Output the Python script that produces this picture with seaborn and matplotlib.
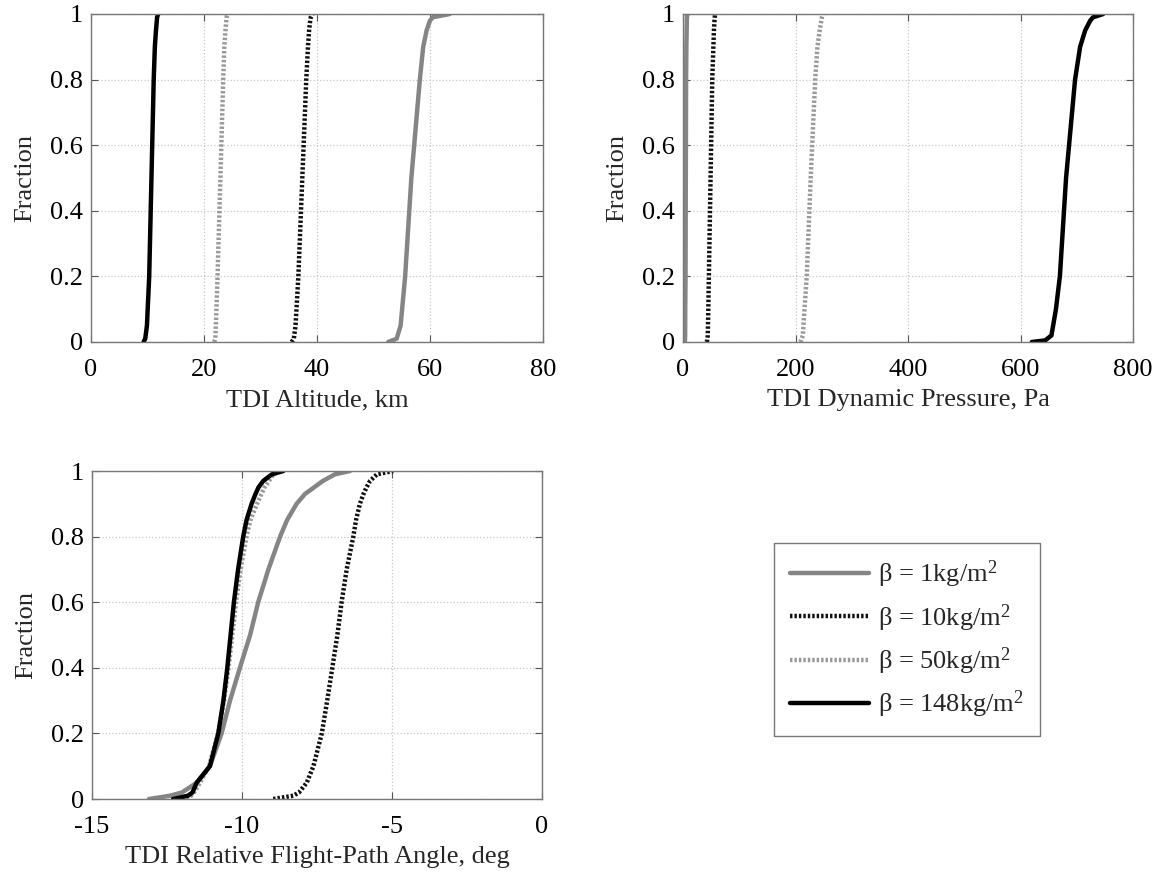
import numpy as np
import pandas as pd
import matplotlib
matplotlib.use("Agg")
import matplotlib.pyplot as plt
from matplotlib.lines import Line2D
import seaborn as sns

# Cumulative fraction levels at which each quantile was taken
frac_alt = [0.0, 0.01, 0.05, 0.2, 0.5, 0.8, 0.9, 0.95, 0.98, 0.99, 1.0]
frac_q = [0.0, 0.005, 0.02, 0.1, 0.2, 0.5, 0.8, 0.9, 0.95, 0.98, 0.99, 1.0]
frac_fpa = [0.0, 0.01, 0.02, 0.05, 0.1, 0.2, 0.3, 0.4, 0.5, 0.6, 0.7, 0.8, 0.85,
            0.9, 0.93, 0.95, 0.97, 0.99, 1.0]

series_labels = [r"$\mathrm{\beta}$ = 1kg/m$^2$", r"$\mathrm{\beta}$ = 10kg/m$^2$",
                 r"$\mathrm{\beta}$ = 50kg/m$^2$", r"$\mathrm{\beta}$ = 148kg/m$^2$"]

# TDI altitude quantiles, km
alt_b1 = [52.6, 54.1, 54.8, 55.6, 56.7, 58.2, 58.8, 59.4, 60.0, 60.5, 63.5]
alt_b10 = [35.5, 35.9, 36.2, 36.7, 37.4, 38.1, 38.4, 38.6, 38.8, 38.9, 39.2]
alt_b50 = [21.8, 22.0, 22.1, 22.4, 22.9, 23.4, 23.6, 23.8, 23.95, 24.0, 24.2]
alt_b148 = [9.3, 9.6, 9.9, 10.3, 10.7, 11.1, 11.3, 11.5, 11.65, 11.7, 11.9]

# TDI dynamic pressure quantiles, Pa
q_b1 = [3, 3.5, 3.8, 4, 4.5, 5, 5.5, 6, 6.5, 6.8, 7, 8]
q_b10 = [42, 43, 44, 45, 46, 49, 52, 54, 55, 56, 56.5, 57]
q_b50 = [208, 210, 213, 216, 220, 227, 235, 239, 243, 246, 247, 249]
q_b148 = [620, 644, 655, 663, 670, 681, 697, 706, 715, 724, 729, 747]

# TDI relative flight-path angle quantiles, deg
fpa_b1 = [-13.1, -12.4, -12.0, -11.5, -11.07, -10.68, -10.4, -10.07, -9.73, -9.46,
          -9.12, -8.73, -8.5, -8.18, -7.9, -7.6, -7.3, -6.9, -6.4]
fpa_b10 = [-8.96, -8.29, -8.1, -7.84, -7.62, -7.34, -7.16, -6.99, -6.82, -6.68,
           -6.51, -6.29, -6.2, -6.07, -5.95, -5.85, -5.73, -5.5, -4.96]
fpa_b50 = [-12.0, -11.7, -11.6, -11.4, -11.1, -10.8, -10.6, -10.45, -10.32, -10.2,
           -10.05, -9.85, -9.72, -9.5, -9.35, -9.25, -9.1, -8.95, -8.7]
fpa_b148 = [-12.3, -11.8, -11.65, -11.51, -11.07, -10.79, -10.62, -10.49, -10.38,
            -10.27, -10.13, -9.96, -9.85, -9.68, -9.55, -9.45, -9.29, -9.0, -8.62]

sns.set_theme(style="white")
plt.rcParams["font.family"] = ["Liberation Serif", "DejaVu Serif"]
plt.rcParams["mathtext.fontset"] = "custom"
plt.rcParams["mathtext.rm"] = "Liberation Serif"
plt.rcParams["mathtext.it"] = "Liberation Serif:italic"
plt.rcParams["axes.unicode_minus"] = False

FS = 19

styles = [
    dict(color="#858585", linestyle="-", linewidth=3.2),
    dict(color="#111111", linestyle=(0, (0.55, 0.45)), linewidth=3.2),
    dict(color="#9a9a9a", linestyle=(0, (0.55, 0.45)), linewidth=3.2),
    dict(color="#000000", linestyle="-", linewidth=3.2),
]

fig = plt.figure(figsize=(11.62, 8.75), dpi=100)
W, H = 1162, 875


def make_ax(x0, x1, y0, y1):
    return fig.add_axes([x0 / W, 1 - y1 / H, (x1 - x0) / W, (y1 - y0) / H])


ax1 = make_ax(91, 543, 14, 342)
ax2 = make_ax(683, 1133, 14, 342)
ax3 = make_ax(92, 542, 471, 799)

panels = [
    (ax1, frac_alt, [alt_b1, alt_b10, alt_b50, alt_b148], (0, 80), np.arange(0, 81, 20), "TDI Altitude, km"),
    (ax2, frac_q, [q_b1, q_b10, q_b50, q_b148], (0, 800), np.arange(0, 801, 200), "TDI Dynamic Pressure, Pa"),
    (ax3, frac_fpa, [fpa_b1, fpa_b10, fpa_b50, fpa_b148], (-15, 0), np.arange(-15, 1, 5), "TDI Relative Flight-Path Angle, deg"),
]

for ax, frac, vals, xlim, xticks, xlabel in panels:
    for v, st in zip(vals, styles):
        df = pd.DataFrame({"value": v, "fraction": frac})
        sns.lineplot(data=df, x="value", y="fraction", ax=ax, sort=False,
                     estimator=None, legend=False, **st)
    ax.set_xlim(*xlim)
    ax.set_ylim(0, 1)
    ax.set_xticks(xticks)
    ax.set_yticks([0, 0.2, 0.4, 0.6, 0.8, 1])
    ax.set_yticklabels(["0", "0.2", "0.4", "0.6", "0.8", "1"])
    ax.set_xlabel(xlabel, fontsize=FS, labelpad=6)
    ax.set_ylabel("Fraction", fontsize=FS, labelpad=10)
    ax.grid(True, color="#c8c8c8", linestyle=":", linewidth=0.9)
    ax.tick_params(direction="in", length=5, width=0.8, colors="#555555",
                   labelcolor="black", labelsize=FS, top=True, right=True,
                   bottom=True, left=True)
    ax.tick_params(axis="y", pad=6)
    ax.tick_params(axis="x", pad=12)
    for sp in ax.spines.values():
        sp.set_color("#777777")
        sp.set_linewidth(1.0)
    ax.set_facecolor("white")

handles = [Line2D([0], [0], **st) for st in styles]
leg = fig.legend(handles, series_labels, loc="upper left",
                 bbox_to_anchor=(774 / W, 1 - 543 / H), fontsize=FS,
                 frameon=True, fancybox=False, handlelength=3.0,
                 handletextpad=0.35, labelspacing=0.45, borderpad=0.6,
                 borderaxespad=0)
leg.get_frame().set_edgecolor("#555555")
leg.get_frame().set_linewidth(1.0)

fig.savefig("out.png", dpi=100, facecolor="white")
